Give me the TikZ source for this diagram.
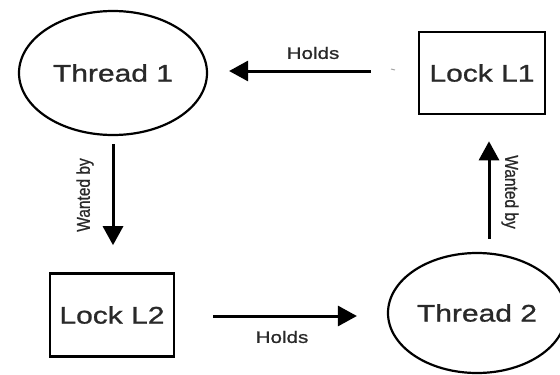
\documentclass[tikz,border=0pt]{standalone}
\usepackage{fontspec}
\setmainfont[FakeBold=0.8]{Liberation Sans}
\newfontfamily\widefont[FakeStretch=1.25,FakeBold=1]{Liberation Sans}
\usetikzlibrary{shapes.geometric,arrows.meta}
\definecolor{inkgray}{gray}{0.16}
\tikzset{
  thread/.style={ellipse, draw, line width=2.2pt, inner sep=0pt,
    font=\widefont\fontsize{24}{28}\selectfont, text=inkgray},
  lockbox/.style={rectangle, draw, line width=2.6pt, inner sep=0pt,
    font=\widefont\fontsize{24}{28}\selectfont, text=inkgray},
  relation/.style={line width=3pt, -{Triangle[length=19pt,width=20pt]}},
  edgelabel/.style={font=\widefont\fontsize{16.5}{19}\selectfont, text=inkgray, inner sep=0pt},
  sidelabel/.style={font=\fontsize{15.5}{18}\selectfont, text=inkgray, inner sep=0pt}
}
\begin{document}
\begin{tikzpicture}[x=1pt,y=-1pt]
\useasboundingbox (0,0) rectangle (560,375);
\begin{scope}
\clip (0,0) rectangle (560,375);

% threads and locks
\node[thread, minimum width=188pt, minimum height=124pt] (T1) at (113,73) {Thread 1};
\node[lockbox, minimum width=126pt, minimum height=82pt] (L1) at (482,73) {Lock L1};
\node[lockbox, minimum width=124pt, minimum height=83pt] (L2) at (112,315) {Lock L2};
\node[thread, minimum width=178pt, minimum height=120pt] (T2) at (477,313) {Thread 2};

% relations
\draw[relation, shorten <=47pt, shorten >=21pt] ([yshift=2pt]L1.west) -- ([yshift=2pt]T1.east);
\draw[relation, shorten <=8pt, shorten >=27pt] (T1.south) -- (T1.south |- L2.north);
\draw[relation, shorten <=38pt, shorten >=30pt] ([yshift=-1pt]L2.east) -- ([yshift=-1pt]L2.east -| T2.west);
\draw[relation, shorten <=13pt, shorten >=26pt] ([xshift=12pt]T2.north) -- ([xshift=12pt]T2.north |- L1.south);

% relation labels
\node[edgelabel] (h1) at (313,53) {Holds};
\node[edgelabel] (h2) at (282,337) {Holds};
\node[sidelabel, rotate=90, yscale=1.2] (w1) at (85,195) {Wanted by};
\node[sidelabel, rotate=-90, yscale=1.2] (w2) at (510,192) {Wanted by};

% stray mark beside Lock L1
\draw[gray!70, line width=1pt] (391,69) -- (395,70);
\end{scope}
\end{tikzpicture}
\end{document}
